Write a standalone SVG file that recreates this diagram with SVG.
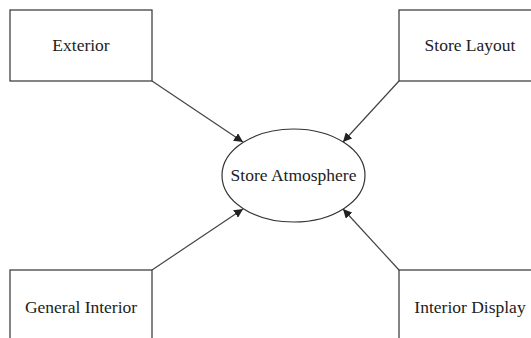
<svg xmlns="http://www.w3.org/2000/svg" width="531" height="338" viewBox="0 0 531 338">
<style>
.box{fill:#fff;stroke:#333;stroke-width:1.2}
.t{font-family:"Liberation Serif","Times New Roman",serif;font-size:17.5px;fill:#222;text-anchor:middle}
.c{stroke:#444;stroke-width:1.2;fill:none;marker-end:url(#ah)}
</style>
<defs>
<marker id="ah" viewBox="0 0 10 10" refX="10" refY="5" markerWidth="9" markerHeight="9" markerUnits="userSpaceOnUse" orient="auto">
<path d="M0,0 L10,5 L0,10 Z" fill="#222"/>
</marker>
</defs>
<rect width="531" height="338" fill="#fff"/>
<g id="connectors">
<line class="c" x1="152" y1="81" x2="243" y2="142"/>
<line class="c" x1="399" y1="81" x2="343" y2="142"/>
<line class="c" x1="152" y1="270" x2="243" y2="209"/>
<line class="c" x1="399" y1="270" x2="343" y2="209"/>
</g>
<g id="exterior">
<rect class="box" x="10" y="10" width="142" height="71"/>
<text class="t" x="81" y="51">Exterior</text>
</g>
<g id="store-layout">
<rect class="box" x="399" y="10" width="140" height="71"/>
<text class="t" x="470" y="51">Store Layout</text>
</g>
<g id="general-interior">
<rect class="box" x="10" y="270" width="142" height="80"/>
<text class="t" x="81" y="313">General Interior</text>
</g>
<g id="interior-display">
<rect class="box" x="399" y="270" width="140" height="80"/>
<text class="t" x="470" y="313">Interior Display</text>
</g>
<g id="store-atmosphere">
<ellipse class="box" cx="293.5" cy="175.5" rx="71.5" ry="46.5"/>
<text class="t" x="293.5" y="181">Store Atmosphere</text>
</g>
</svg>
